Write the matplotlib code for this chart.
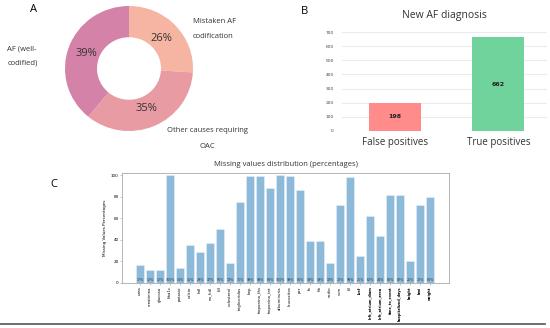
import matplotlib
matplotlib.use("Agg")
import matplotlib.pyplot as plt
from matplotlib.lines import Line2D
import numpy as np

# panel A: AF codification
pie_labels = ["Mistaken AF\ncodification", "Other causes requiring\nOAC", "AF (well-\ncodified)"]
pie_values = [26, 35, 39]
pie_colors = ["#f6b4a3", "#e99ba3", "#d482a7"]

# panel B: new AF diagnosis
diag_names = ["False positives", "True positives"]
diag_values = [198, 662]
diag_colors = ["#ff8b8b", "#70d39b"]

# panel C: missing values
var_names = ["urea", "creatinina", "glucosa", "hba1c", "potasio", "calcio", "hdl",
             "no_hdl", "ldl", "colesterol", "trigliceridos", "bnp", "troponina_ths",
             "troponina_tnt", "albuminuria", "leucocitos", "pcr", "fa", "hb", "sodio",
             "vcm", "t3", "lvef", "left_atrium_diam", "left_atrium_area",
             "time_to_event", "hospitalized_days", "height", "bmi", "weight"]
missing_pct = [17, 12, 12, 100, 14, 35, 29, 37, 50, 19, 75, 99, 99, 88, 100, 99, 86,
               39, 39, 19, 72, 98, 25, 62, 44, 82, 82, 20, 72, 80]
bold_from = 22

W, H = 550, 328
fig = plt.figure(figsize=(W / 100, H / 100), dpi=100)
fs = "Open Sans"


def box(x0, y0, x1, y1):
    # pixel box (top-left origin) -> figure fraction
    return [x0 / W, 1 - y1 / H, (x1 - x0) / W, (y1 - y0) / H]


# ---- A ----
axA = fig.add_axes(box(65, 6, 193, 131))
wedges, _, autotexts = axA.pie(pie_values, colors=pie_colors, startangle=90,
                               counterclock=False, autopct="%d%%", pctdistance=0.7,
                               wedgeprops=dict(width=0.5),
                               textprops=dict(fontsize=8, family=fs, color="#333333"))
axA.set_xlim(-1, 1)
axA.set_ylim(-1, 1)
axA.set_aspect("auto")
axA.text(1.0, 0.63, pie_labels[0], ha="left", va="center", fontsize=5.5, family=fs,
         linespacing=2.6, color="#333333", clip_on=False)
axA.text(1.22, -1.12, pie_labels[1], ha="center", va="center", fontsize=5.5, family=fs,
         linespacing=2.6, color="#333333", clip_on=False)
axA.text(-1.9, 0.2, pie_labels[2], ha="left", va="center", fontsize=5.5, family=fs,
         linespacing=2.6, color="#333333", clip_on=False)

# ---- B ----
axB = fig.add_axes(box(342, 32, 547, 131))
xb = np.arange(len(diag_names))
axB.bar(xb, diag_values, width=0.5, color=diag_colors, zorder=3)
for x, v in zip(xb, diag_values):
    axB.text(x, v / 2, str(v), ha="center", va="center", fontsize=4.5,
             fontweight="bold", color="#222222", zorder=4)
axB.set_xlim(-0.51, 1.47)
axB.set_ylim(0, 700)
axB.set_yticks(range(0, 701, 100))
axB.grid(axis="y", color="#ececec", linewidth=0.8, zorder=0)
for s in axB.spines.values():
    s.set_visible(False)
axB.tick_params(axis="y", length=0, labelsize=3.2, pad=6, labelcolor="#444444")
axB.tick_params(axis="x", length=0, pad=4)
axB.set_xticks(xb)
axB.set_xticklabels(diag_names, fontsize=7, family=fs, color="#333333")
axB.set_title("New AF diagnosis", fontsize=7.5, family=fs, color="#333333", pad=10)

# ---- C ----
axC = fig.add_axes(box(122, 173, 449, 283))
xc = np.arange(len(var_names))
axC.bar(xc, missing_pct, width=0.8, color="#1f77b4", alpha=0.5, edgecolor="white",
        linewidth=0.4)
for x, v in zip(xc, missing_pct):
    axC.text(x, 3, f"{v}%", ha="center", va="center", fontsize=2.3, color="#333333")
axC.set_xlim(-1.8, 30.9)
axC.set_ylim(0, 102)
axC.set_yticks(range(0, 101, 20))
axC.tick_params(axis="y", labelsize=3, length=1.5, width=0.4, pad=1, color="#999999")
axC.tick_params(axis="x", length=1.5, width=0.4, pad=1, color="#999999")
axC.set_xticks(xc)
axC.set_xticklabels(var_names, rotation=90, fontsize=2.8)
for i, lab in enumerate(axC.get_xticklabels()):
    if i >= bold_from:
        lab.set_fontweight("bold")
        lab.set_fontsize(2.5)
for s in axC.spines.values():
    s.set_color("#aaaaaa")
    s.set_linewidth(0.6)
axC.set_ylabel("Missing Values Percentages", fontsize=3, labelpad=3)
axC.set_title("Missing values distribution (percentages)", fontsize=5.5, family=fs,
              color="#333333", pad=5)

# panel letters
fig.text(33 / W, 1 - 10 / H, "A", fontsize=8, family=fs, ha="center", va="center")
fig.text(305 / W, 1 - 12 / H, "B", fontsize=8, family=fs, ha="center", va="center")
fig.text(54 / W, 1 - 184 / H, "C", fontsize=8, family=fs, ha="center", va="center")

# bottom rule
fig.add_artist(Line2D([0, 545 / W], [1 - 324 / H, 1 - 324 / H], color="#555555",
                      linewidth=1.2, transform=fig.transFigure))

fig.savefig("out.png", dpi=100)
